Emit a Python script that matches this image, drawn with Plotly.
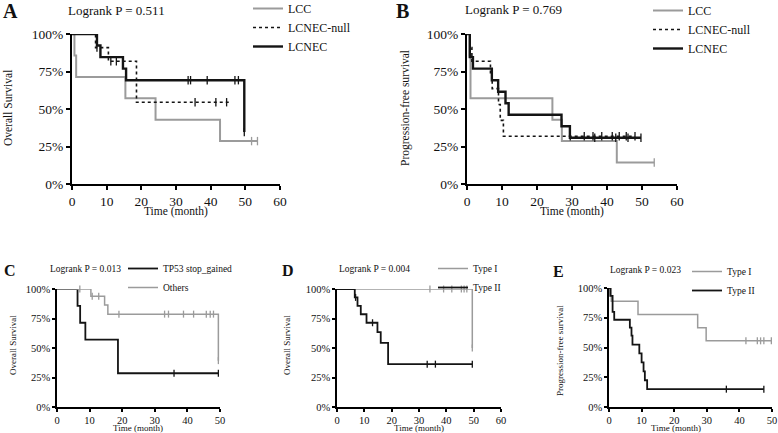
import plotly.graph_objects as go

FONT = "Liberation Serif"
GRAY = "#9b9b9b"
BLACK = "#141414"
W, H = 778, 433

# ---------------- data (time in months, survival in %) ----------------
# Panel A: Overall survival
A_LCC_t = [0, 0.7, 1.2, 15.4, 24.1, 42.7, 53.5]
A_LCC_s = [100, 85.7, 71.4, 57.1, 42.9, 28.6, 28.6]
A_LCC_c = [51.8, 53.5]
A_NULL_t = [0, 6.8, 10.5, 18.6, 45.6]
A_NULL_s = [100, 90.9, 81.8, 54.5, 54.5]
A_NULL_c = [7.2, 11.2, 12.8, 35.5, 41.5, 44.6]
A_LCNEC_t = [0, 7.2, 8.2, 14.7, 15.6, 49.7]
A_LCNEC_s = [100, 92.3, 84.6, 76.9, 69.2, 34.6]
A_LCNEC_c = [33.5, 34.2, 39.0, 47.0, 48.0, 49.7]

# Panel B: Progression-free survival
B_LCC_t = [0, 0.8, 1.0, 24.4, 27.1, 42.8, 53.5]
B_LCC_s = [100, 85.7, 57.1, 42.9, 28.6, 14.3, 14.3]
B_LCC_c = [53.5]
B_NULL_t = [0, 0.9, 1.4, 6.7, 7.2, 9.0, 9.5, 10.4, 48.0]
B_NULL_s = [100, 90.9, 81.8, 72.7, 63.6, 53.0, 42.4, 31.8, 31.8]
B_NULL_c = [1.6, 29.5, 33.5, 36.0, 38.5, 41.5, 43.5, 45.5, 48.0]
B_LCNEC_t = [0, 0.8, 1.7, 7.1, 8.9, 11.0, 11.9, 27.0, 29.4, 49.7]
B_LCNEC_s = [100, 84.6, 76.9, 69.2, 61.5, 53.8, 46.2, 38.5, 30.8, 30.8]
B_LCNEC_c = [36.5, 42.5, 46.0, 49.7]

# Panel C: Overall survival by TP53
C_TP53_t = [0, 6.3, 7.1, 8.7, 18.7, 49.5]
C_TP53_s = [100, 85.7, 71.4, 57.1, 28.6, 28.6]
C_TP53_c = [35.9, 49.5]
C_OTH_t = [0, 10.4, 14.6, 15.6, 49.5]
C_OTH_s = [100, 93.8, 86.5, 78.7, 39.3]
C_OTH_c = [7.0, 10.8, 12.8, 19.0, 33.0, 34.2, 38.8, 41.9, 45.8, 47.0, 48.0, 49.5]

# Panel D: Overall survival by type
D_T1_t = [0, 49.5]
D_T1_s = [100, 50.0]
D_T1_c = [34.0, 39.0, 42.0, 45.5, 46.5, 47.5, 49.5]
D_T2_t = [0, 6.5, 7.5, 8.7, 10.8, 14.8, 16.0, 18.7, 49.5]
D_T2_s = [100, 92.9, 85.7, 78.6, 71.4, 63.5, 54.4, 36.3, 36.3]
D_T2_c = [6.8, 13.0, 33.0, 36.0, 49.5]

# Panel E: Progression-free survival by type
E_T1_t = [0, 0.7, 8.9, 27.2, 29.8, 49.8]
E_T1_s = [100, 88.9, 77.8, 66.7, 55.6, 55.6]
E_T1_c = [42.0, 45.5, 46.5, 47.5, 49.8]
E_T2_t = [0, 0.4, 1.1, 1.6, 6.4, 6.9, 7.2, 9.3, 10.0, 10.6, 11.0, 11.7, 47.5]
E_T2_s = [100, 93.3, 80.0, 73.3, 66.7, 60.0, 52.5, 45.0, 37.5, 30.0, 22.5, 15.0, 15.0]
E_T2_c = [36.0, 47.5]

PVALS = ["0.511", "0.769", "0.013", "0.004", "0.023"]
Y_TICKS = [0, 25, 50, 75, 100]
Y_TICKTEXT = ["0%", "25%", "50%", "75%", "100%"]


def step_value(t, s, c):
    v = s[0]
    for ti, si in zip(t, s):
        if ti <= c:
            v = si
    return v


def px(x):
    return x / W


def py(y):
    return 1 - y / H


# panel geometry in pixels: (left, right, top, bottom)
PANELS = {
    "A": dict(box=(72, 280, 34, 184), xmax=60, big=True, legend_xy=(248, -6),
              ytitle="Overall Survival", ytx=8, yty=108, xtx=176, xty=211,
              letter=(10, 11), pval=(116, 10), pv=PVALS[0]),
    "B": dict(box=(467, 677, 34, 184), xmax=60, big=True, legend_xy=(648, -4),
              ytitle="Progression-free survival", ytx=405, yty=108, xtx=572, xty=211,
              letter=(403, 11), pval=(513, 9), pv=PVALS[1]),
    "C": dict(box=(57, 220, 289, 407), xmax=50, big=False, legend_xy=(123, 254),
              ytitle="Overall Survival", ytx=13, yty=345, xtx=138, xty=428,
              letter=(10, 270), pval=(85, 269), pv=PVALS[2]),
    "D": dict(box=(337, 501, 289, 407), xmax=60, big=False, legend_xy=(433, 254),
              ytitle="Overall Survival", ytx=287, yty=345, xtx=419, xty=428,
              letter=(288, 270), pval=(374, 269), pv=PVALS[3]),
    "E": dict(box=(609, 772, 288, 407), xmax=50, big=False, legend_xy=(687, 257),
              ytitle="Progression-free survival", ytx=560, yty=351, xtx=676, xty=428,
              letter=(558, 271), pval=(645, 270), pv=PVALS[4]),
}

SERIES = {
    "A": [("LCC", A_LCC_t, A_LCC_s, A_LCC_c, GRAY, "solid", 2.0),
          ("LCNEC-null", A_NULL_t, A_NULL_s, A_NULL_c, BLACK, "dot", 1.6),
          ("LCNEC", A_LCNEC_t, A_LCNEC_s, A_LCNEC_c, BLACK, "solid", 2.4)],
    "B": [("LCC", B_LCC_t, B_LCC_s, B_LCC_c, GRAY, "solid", 2.0),
          ("LCNEC-null", B_NULL_t, B_NULL_s, B_NULL_c, BLACK, "dot", 1.6),
          ("LCNEC", B_LCNEC_t, B_LCNEC_s, B_LCNEC_c, BLACK, "solid", 2.4)],
    "C": [("TP53 stop_gained", C_TP53_t, C_TP53_s, C_TP53_c, BLACK, "solid", 1.8),
          ("Others", C_OTH_t, C_OTH_s, C_OTH_c, GRAY, "solid", 1.5)],
    "D": [("Type I", D_T1_t, D_T1_s, D_T1_c, GRAY, "solid", 1.5),
          ("Type II", D_T2_t, D_T2_s, D_T2_c, BLACK, "solid", 1.8)],
    "E": [("Type I", E_T1_t, E_T1_s, E_T1_c, GRAY, "solid", 1.5),
          ("Type II", E_T2_t, E_T2_s, E_T2_c, BLACK, "solid", 1.8)],
}

fig = go.Figure()
annotations = []
layout = dict(width=W, height=H,
              margin=dict(l=0, r=0, t=0, b=0, pad=0, autoexpand=False),
              paper_bgcolor="white", plot_bgcolor="white", showlegend=True,
              font=dict(family=FONT, color="#111"))

for i, key in enumerate(["A", "B", "C", "D", "E"]):
    p = PANELS[key]
    n = "" if i == 0 else str(i + 1)
    xa, ya = "x" + n, "y" + n
    legname = "legend" + n
    l, r, t, b = p["box"]
    big = p["big"]
    lw = 2 if big else 1.5
    tickfs = 13.5 if big else 10.5
    labfs = 13 if big else 9.5
    titlefs = 11.5 if big else 9
    legfs = 12 if big else 9.5

    for name, tt, ss, cc, col, dash, w in SERIES[key]:
        fig.add_trace(go.Scatter(
            x=tt, y=ss, mode="lines", line=dict(color=col, width=w, dash=dash, shape="hv"),
            name=name, xaxis=xa, yaxis=ya, legend=legname, cliponaxis=False,
            hoverinfo="skip"))
        fig.add_trace(go.Scatter(
            x=cc, y=[step_value(tt, ss, c) for c in cc], mode="markers",
            marker=dict(symbol="line-ns-open", size=6 if big else 5, color=col,
                        line=dict(color=col, width=1.3)),
            showlegend=False, xaxis=xa, yaxis=ya, cliponaxis=False, hoverinfo="skip"))

    axis_common = dict(showgrid=False, zeroline=False, showline=True, linecolor="black",
                       linewidth=lw, ticks="outside", ticklen=4 if big else 3,
                       tickwidth=lw, tickcolor="black", automargin=False,
                       tickfont=dict(family=FONT, size=tickfs, color="#111"))
    layout["xaxis" + n] = dict(axis_common, domain=[px(l), px(r)], range=[0, p["xmax"]],
                               dtick=10, tick0=0, anchor=ya)
    layout["yaxis" + n] = dict(axis_common, domain=[py(b), py(t)], range=[0, 100],
                               tickmode="array", tickvals=Y_TICKS, ticktext=Y_TICKTEXT,
                               anchor=xa)
    lx, ly = p["legend_xy"]
    layout[legname] = dict(x=px(lx), y=py(ly), xanchor="left", yanchor="top",
                           bgcolor="rgba(0,0,0,0)", itemwidth=30, traceorder="normal",
                           font=dict(family=FONT, size=legfs, color="#111"))
    annotations += [
        dict(text="<b>%s</b>" % key, x=px(p["letter"][0]), y=py(p["letter"][1]),
             xref="paper", yref="paper", showarrow=False, xanchor="center", yanchor="middle",
             font=dict(family=FONT, size=20 if big else 16, color="#111")),
        dict(text="Logrank P = %s" % p["pv"], x=px(p["pval"][0]), y=py(p["pval"][1]),
             xref="paper", yref="paper", showarrow=False, xanchor="center", yanchor="middle",
             font=dict(family=FONT, size=labfs, color="#111")),
        dict(text=p["ytitle"], x=px(p["ytx"]), y=py(p["yty"]), textangle=-90,
             xref="paper", yref="paper", showarrow=False, xanchor="center", yanchor="middle",
             font=dict(family=FONT, size=titlefs, color="#111")),
        dict(text="Time (month)", x=px(p["xtx"]), y=py(p["xty"]),
             xref="paper", yref="paper", showarrow=False, xanchor="center", yanchor="middle",
             font=dict(family=FONT, size=titlefs, color="#111")),
    ]

layout["annotations"] = annotations
fig.update_layout(**layout)
# remove the browser's default 8px body margin so the figure sits at the page origin
fig.write_html("out.html", config={"displayModeBar": False},
               post_script="document.body.style.margin='0px';")
